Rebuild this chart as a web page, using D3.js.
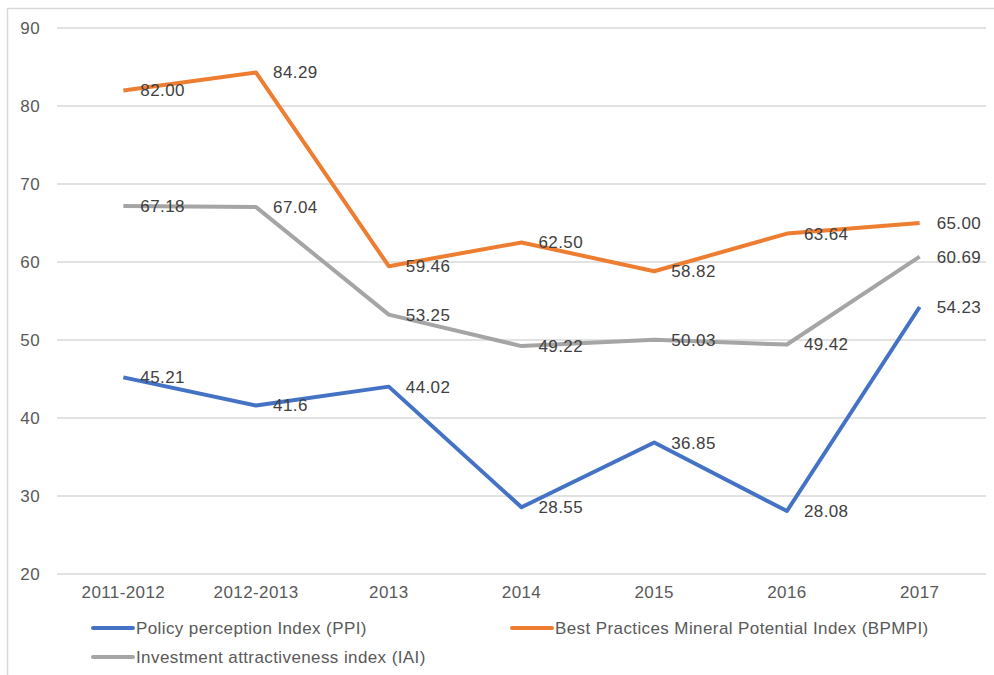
<!DOCTYPE html>
<html>
<head>
<meta charset="utf-8">
<script src="https://cdn.jsdelivr.net/npm/d3@7"></script>
<style>
  body { margin: 0; background: #fff; }
  text { font-family: "Liberation Sans", Arial, sans-serif; letter-spacing: 0.4px; }
</style>
</head>
<body>
<div id="chart"></div>
<script>
// data
const categories = ['2011-2012', '2012-2013', '2013', '2014', '2015', '2016', '2017'];
const ppiValues = ['45.21', '41.6', '44.02', '28.55', '36.85', '28.08', '54.23'];
const bpmpiValues = ['82.00', '84.29', '59.46', '62.50', '58.82', '63.64', '65.00'];
const iaiValues = ['67.18', '67.04', '53.25', '49.22', '50.03', '49.42', '60.69'];
const yTicks = [20, 30, 40, 50, 60, 70, 80, 90];

const series = [
    {name: 'Best Practices Mineral Potential Index (BPMPI)', values: bpmpiValues, color: '#ED7D31'},
    {name: 'Investment attractiveness index (IAI)', values: iaiValues, color: '#A5A5A5'},
    {name: 'Policy perception Index (PPI)', values: ppiValues, color: '#4472C4'}
];

const W = 994, H = 675;
const margin = {top: 28, right: 8, bottom: 101, left: 57};

const svg = d3.select('#chart').append('svg')
    .attr('width', W)
    .attr('height', H);

// outer frame
svg.append('rect')
    .attr('x', 7.5).attr('y', 8.5)
    .attr('width', W + 20).attr('height', H + 20)
    .attr('fill', 'none')
    .attr('stroke', '#d9d9d9')
    .attr('stroke-width', 1.5);

const x = d3.scaleBand()
    .domain(categories)
    .range([margin.left, W - margin.right])
    .padding(0);

const y = d3.scaleLinear()
    .domain([20, 90])
    .range([H - margin.bottom, margin.top]);

// grid
svg.append('g')
    .selectAll('line')
    .data(yTicks)
    .join('line')
        .attr('x1', margin.left)
        .attr('x2', W - margin.right)
        .attr('y1', d => y(d))
        .attr('y2', d => y(d))
        .attr('stroke', '#d9d9d9')
        .attr('stroke-width', 1.5);

// y axis labels
const yAxis = d3.axisLeft(y).tickValues(yTicks).tickSize(0).tickPadding(17);
svg.append('g')
    .attr('transform', `translate(${margin.left},0)`)
    .call(yAxis)
    .call(g => g.select('.domain').remove())
    .selectAll('text')
        .attr('fill', '#595959')
        .style('font-size', '17px')
        .style('font-family', '"Liberation Sans", Arial, sans-serif');

// x axis labels
const xAxis = d3.axisBottom(x).tickSize(0).tickPadding(12);
svg.append('g')
    .attr('transform', `translate(0,${H - margin.bottom})`)
    .call(xAxis)
    .call(g => g.select('.domain').remove())
    .selectAll('text')
        .attr('fill', '#595959')
        .style('font-size', '17px')
        .style('font-family', '"Liberation Sans", Arial, sans-serif');

const line = d3.line()
    .x((d, i) => x(categories[i]) + x.bandwidth() / 2)
    .y(d => y(+d));

svg.append('g')
    .selectAll('path')
    .data(series)
    .join('path')
        .attr('d', d => line(d.values))
        .attr('fill', 'none')
        .attr('stroke', d => d.color)
        .attr('stroke-width', 4)
        .attr('stroke-linejoin', 'round');

// data labels, to the right of each point
series.forEach(s => {
    svg.append('g')
        .selectAll('text')
        .data(s.values)
        .join('text')
            .attr('x', (d, i) => x(categories[i]) + x.bandwidth() / 2 + 17)
            .attr('y', d => y(+d))
            .attr('dy', '0.35em')
            .attr('fill', '#404040')
            .style('font-size', '17px')
            .text(d => d);
});

// legend
const legendItems = [
    {s: series[2], x: 93, y: 628},
    {s: series[0], x: 512, y: 628},
    {s: series[1], x: 93, y: 657}
];
const legend = svg.append('g')
    .selectAll('g')
    .data(legendItems)
    .join('g')
        .attr('transform', d => `translate(${d.x},${d.y})`);
legend.append('line')
    .attr('x1', 0).attr('x2', 40)
    .attr('stroke', d => d.s.color)
    .attr('stroke-width', 4)
    .attr('stroke-linecap', 'round');
legend.append('text')
    .attr('x', 43)
    .attr('dy', '0.35em')
    .attr('fill', '#595959')
    .style('font-size', '17px')
    .text(d => d.s.name);
</script>
</body>
</html>
